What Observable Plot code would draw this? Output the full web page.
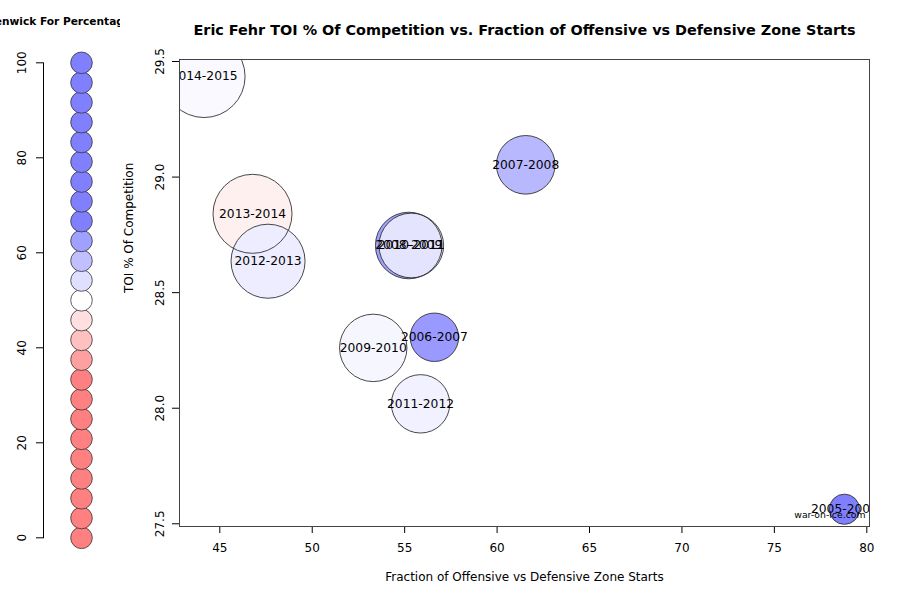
<!DOCTYPE html>
<html>
<head>
<meta charset="utf-8">
<script src="https://cdn.jsdelivr.net/npm/d3@7"></script>
<script src="https://cdn.jsdelivr.net/npm/@observablehq/plot@0.6"></script>
<style>
  html, body { margin: 0; padding: 0; background: #fff; }
  #wrap { position: relative; width: 900px; height: 600px; overflow: hidden; background: #fff; }
  #legend { position: absolute; left: 0; top: 0; width: 120px; height: 600px; overflow: hidden; }
  #main { position: absolute; left: 120px; top: 0; width: 780px; height: 600px; }
  svg { display: block; }
</style>
</head>
<body>
<div id="wrap"><div id="legend"></div><div id="main"></div></div>
<script>
// ---- Data ----
const seasons      = ["2005-2006", "2006-2007", "2007-2008", "2008-2009", "2009-2010", "2010-2011", "2011-2012", "2012-2013", "2013-2014", "2014-2015"];
const zoneStarts   = [78.79, 56.61, 61.55, 55.22, 53.30, 55.36, 55.86, 47.61, 46.77, 44.15];
const toiComp      = [27.563, 28.307, 29.053, 28.704, 28.261, 28.704, 28.019, 28.636, 28.841, 29.435];
const fenwickPct   = [68.0, 63.4, 59.3, 62.5, 51.2, 53.5, 51.8, 52.4, 48.0, 50.8];
const bubbleSize   = [114, 293, 429, 554, 568, 522, 426, 685, 780, 840];

const legendValues = [0, 4.17, 8.33, 12.5, 16.67, 20.83, 25, 29.17, 33.33, 37.5, 41.67, 45.83, 50,
                      54.17, 58.33, 62.5, 66.67, 70.83, 75, 79.17, 83.33, 87.5, 91.67, 95.83, 100];
const legendTicks  = [0, 20, 40, 60, 80, 100];
const xTicks       = [45, 50, 55, 60, 65, 70, 75, 80];
const yTicks       = [27.5, 28.0, 28.5, 29.0, 29.5];

const titleText  = "Eric Fehr TOI % Of Competition vs. Fraction of Offensive vs Defensive Zone Starts";
const legendTitle = "Fenwick For Percentage";
const xLabel = "Fraction of Offensive vs Defensive Zone Starts";
const yLabel = "TOI % Of Competition";
const credit = "war-on-ice.com";

const data = seasons.map((s, i) => ({
  season: s, zs: zoneStarts[i], toi: toiComp[i], ff: fenwickPct[i], size: bubbleSize[i]
}));

const colorScale = {
  type: "linear",
  domain: [33.33, 50, 66.67],
  range: ["#ff8080", "#ffffff", "#8080ff"],
  clamp: true,
  interpolate: "rgb"
};

const font = "DejaVu Sans, sans-serif";

// ---- Legend panel ----
const legend = Plot.plot({
  width: 120, height: 600,
  marginLeft: 43, marginRight: 1, marginTop: 62.3, marginBottom: 62.7,
  style: { fontFamily: font, fontSize: "12px", background: "white", color: "#000", overflow: "hidden" },
  y: { domain: [0, 100], ticks: legendTicks, tickSize: 7, tickPadding: 10.5, tickRotate: -90, line: true, label: null },
  color: colorScale,
  marks: [
    Plot.dot(legendValues, { y: d => d, fill: d => d, r: 10.8, stroke: "#333", strokeWidth: 0.8 }),
    Plot.text([legendTitle], { text: d => d, frameAnchor: "top", lineAnchor: "middle", dx: -22, dy: -41.3, fontWeight: "bold", fontSize: 10.6 })
  ]
});
document.getElementById("legend").appendChild(legend);

// ---- Main bubble chart ----
const main = Plot.plot({
  width: 780, height: 600,
  marginLeft: 59, marginRight: 31, marginTop: 59, marginBottom: 74,
  style: { fontFamily: font, fontSize: "12px", background: "white", color: "#000", overflow: "visible" },
  x: { domain: [42.82, 80.146], ticks: xTicks, tickSize: 7, tickPadding: 10, label: null },
  y: { domain: [27.4883, 29.5087], ticks: yTicks, tickFormat: d3.format(".1f"), tickSize: 7, tickPadding: 8.5, tickRotate: -90, label: null },
  r: { domain: [0, 840], range: [0, 41] },
  color: colorScale,
  marks: [
    Plot.dot(data, { x: "zs", y: "toi", r: "size", fill: "ff", clip: true }),
    Plot.dot(data, { x: "zs", y: "toi", r: "size", stroke: "#333", strokeWidth: 0.9, clip: true }),
    Plot.text(data, { x: "zs", y: "toi", text: "season", fontSize: 12.3, fill: "#000", clip: true }),
    Plot.text([credit], { text: d => d, frameAnchor: "bottom-right", lineAnchor: "middle", textAnchor: "end", dx: -4, dy: -11, fontSize: 9.3 }),
    Plot.frame({ stroke: "#444", strokeWidth: 1 }),
    Plot.text([titleText], { text: d => d, frameAnchor: "top", lineAnchor: "middle", dy: -29, fontWeight: "bold", fontSize: 14.4 }),
    Plot.text([xLabel], { text: d => d, frameAnchor: "bottom", lineAnchor: "middle", dy: 50.5, fontSize: 12 }),
    Plot.text([yLabel], { text: d => d, frameAnchor: "left", lineAnchor: "middle", dx: -50, rotate: -90, fontSize: 12 })
  ]
});
document.getElementById("main").appendChild(main);
</script>
</body>
</html>
